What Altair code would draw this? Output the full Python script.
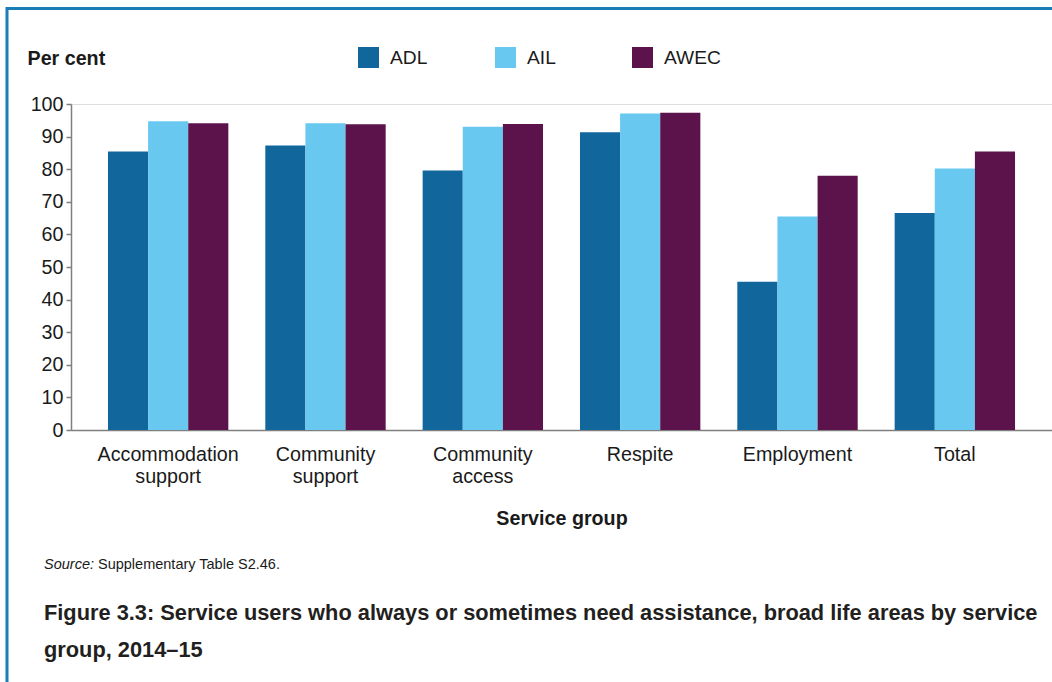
import altair as alt
import pandas as pd

groups = ["Accommodation support", "Community support", "Community access",
          "Respite", "Employment", "Total"]
series = ["ADL", "AIL", "AWEC"]
adl = [85.4, 87.3, 79.6, 91.3, 45.5, 66.6]
ail = [94.7, 94.1, 93.0, 97.1, 65.5, 80.2]
awec = [94.1, 93.8, 93.9, 97.3, 78.0, 85.4]
colors = ["#11669B", "#68C8F0", "#5C134B"]
y_ticks = [0, 10, 20, 30, 40, 50, 60, 70, 80, 90, 100]

y_title = "Per cent"
x_title = "Service group"
source_label = "Source:"
source_text = "Supplementary Table S2.46."
caption = ["Figure 3.3: Service users who always or sometimes need assistance, broad life areas by service",
           "group, 2014\u201315"]

rows = []
for i, g in enumerate(groups):
    for s, vals in zip(series, [adl, ail, awec]):
        rows.append({"group": g, "series": s, "value": vals[i]})
df = pd.DataFrame(rows)

FONT = "Liberation Sans"
FS = 19.7
W, H = 981, 326

bars = alt.Chart(df).mark_bar().encode(
    x=alt.X("group:N", sort=groups,
            scale=alt.Scale(paddingInner=0.235, paddingOuter=0.235),
            axis=alt.Axis(title=x_title, ticks=False, labelAngle=0,
                          labelExpr="split(datum.label, ' ')",
                          labelLineHeight=22, labelPadding=14,
                          labelFontSize=FS, labelFont=FONT, labelColor="#1a1a1a",
                          titleFont=FONT, titleFontSize=FS, titleFontWeight="bold",
                          titleColor="#1a1a1a", titlePadding=23,
                          domainColor="#7f7f7f", domainWidth=1.5)),
    xOffset=alt.XOffset("series:N", sort=series),
    y=alt.Y("value:Q", scale=alt.Scale(domain=[0, 100], nice=False),
            axis=alt.Axis(values=y_ticks, title=y_title, grid=False,
                          tickSize=5, tickColor="#7f7f7f", domainColor="#7f7f7f",
                          domainWidth=1.5, tickWidth=1.5,
                          labelFontSize=FS, labelFont=FONT, labelColor="#1a1a1a",
                          labelPadding=3,
                          titleAngle=0, titleAlign="left", titleBaseline="alphabetic",
                          titleX=-44, titleY=-40, titleFont=FONT, titleFontSize=FS,
                          titleFontWeight="bold", titleColor="#1a1a1a")),
    color=alt.Color("series:N", sort=series,
                    scale=alt.Scale(domain=series, range=colors),
                    legend=alt.Legend(title=None, orient="none", legendX=287, legendY=-57,
                                      direction="horizontal", columns=3, gridAlign="all",
                                      columnPadding=48, padding=0,
                                      symbolType="square", symbolSize=441,
                                      symbolStrokeWidth=0, symbolOpacity=1,
                                      labelOffset=11, labelFont=FONT, labelFontSize=19.2,
                                      labelColor="#1a1a1a")),
)

one = pd.DataFrame({"k": [0]})

top_border = alt.Chart(one).mark_rule(color="#1A7DB5", strokeWidth=3).encode(
    x=alt.value(-64), x2=alt.value(W), y=alt.value(-95.5))
left_border = alt.Chart(one).mark_rule(color="#1A7DB5", strokeWidth=3).encode(
    x=alt.value(-64), y=alt.value(-97), y2=alt.value(682 - 104))

src1 = alt.Chart(one).mark_text(text=source_label, font=FONT, fontSize=14.5,
                                fontStyle="italic", align="left", baseline="alphabetic",
                                color="#1a1a1a").encode(x=alt.value(-27), y=alt.value(465))
src2 = alt.Chart(one).mark_text(text=source_text, font=FONT, fontSize=14.5,
                                align="left", baseline="alphabetic",
                                color="#1a1a1a").encode(x=alt.value(27), y=alt.value(465))
cap = alt.Chart(one).mark_text(text=caption, font=FONT, fontSize=21.8, fontWeight="bold",
                               lineHeight=37, align="left", baseline="alphabetic",
                               color="#231f20").encode(x=alt.value(-27), y=alt.value(516))

chart = alt.layer(bars, top_border, left_border, src1, src2, cap).properties(
    width=W, height=H,
    autosize=alt.AutoSizeParams(type="none"),
    padding={"left": 71, "top": 104, "right": 0, "bottom": 252},
).configure_view(stroke=None).configure(background="white")

chart.save("out.html", embed_options={"renderer": "svg", "actions": False})
